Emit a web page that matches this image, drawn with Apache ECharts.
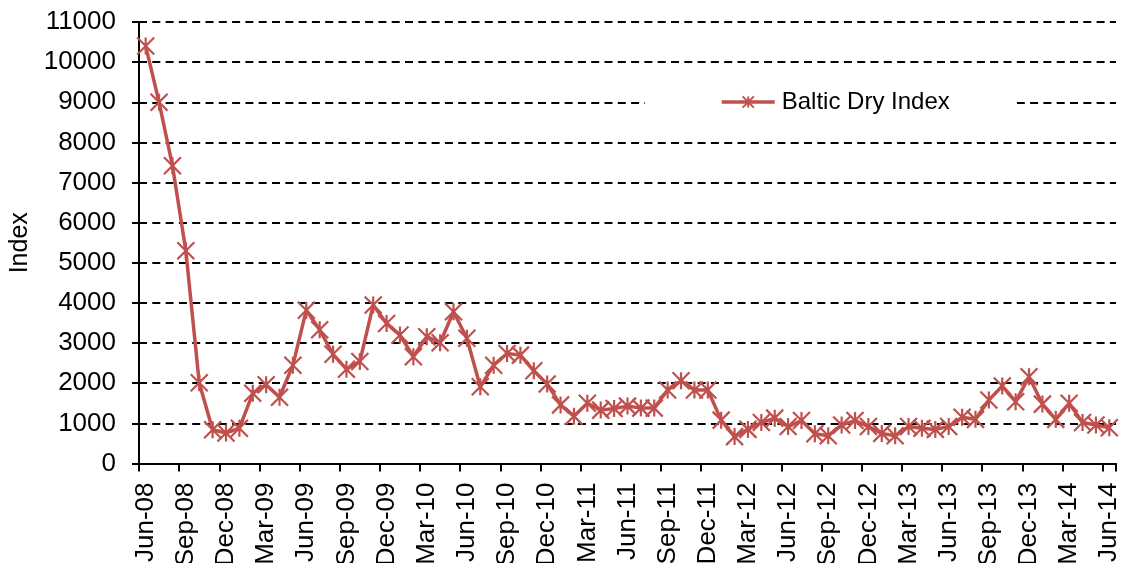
<!DOCTYPE html>
<html>
<head>
<meta charset="utf-8">
<script src="https://cdn.jsdelivr.net/npm/echarts@6/dist/echarts.min.js"></script>
<style>
html,body{margin:0;padding:0;background:#fff;}
#chart{width:1123px;height:563px;}
</style>
</head>
<body>
<div id="chart"></div>
<script>
const months = [
  'Jun-08','Jul-08','Aug-08','Sep-08','Oct-08','Nov-08','Dec-08',
  'Jan-09','Feb-09','Mar-09','Apr-09','May-09','Jun-09','Jul-09','Aug-09','Sep-09','Oct-09','Nov-09','Dec-09',
  'Jan-10','Feb-10','Mar-10','Apr-10','May-10','Jun-10','Jul-10','Aug-10','Sep-10','Oct-10','Nov-10','Dec-10',
  'Jan-11','Feb-11','Mar-11','Apr-11','May-11','Jun-11','Jul-11','Aug-11','Sep-11','Oct-11','Nov-11','Dec-11',
  'Jan-12','Feb-12','Mar-12','Apr-12','May-12','Jun-12','Jul-12','Aug-12','Sep-12','Oct-12','Nov-12','Dec-12',
  'Jan-13','Feb-13','Mar-13','Apr-13','May-13','Jun-13','Jul-13','Aug-13','Sep-13','Oct-13','Nov-13','Dec-13',
  'Jan-14','Feb-14','Mar-14','Apr-14','May-14','Jun-14'
];
const balticDryIndex = [
  10400, 9000, 7420, 5300, 2010, 840, 760,
  880, 1750, 1960, 1650, 2450, 3820, 3330, 2720, 2350, 2540, 3950, 3490,
  3200, 2660, 3160, 3010, 3780, 3120, 1910, 2450, 2740, 2700, 2310, 1980,
  1460, 1180, 1500, 1330, 1370, 1430, 1380, 1380, 1830, 2060, 1830, 1830,
  1080, 670, 850, 1020, 1130, 920, 1070, 740, 690, 960, 1070, 920,
  750, 690, 920, 880, 850, 920, 1150, 1100, 1580, 1930, 1540, 2160,
  1480, 1100, 1500, 1020, 960, 890
];
const seriesName = 'Baltic Dry Index';
const yAxisTitle = 'Index';

const FONT = "'Liberation Sans', Arial, sans-serif";
const RED = '#C0504D';
const chart = echarts.init(document.getElementById('chart'), null, {renderer: 'canvas'});
chart.setOption({
  animation: false,
  backgroundColor: '#fff',
  grid: {left: 139, right: 7, top: 22, bottom: 99.5, containLabel: false, outerBoundsMode: 'none'},
  legend: {
    data: [seriesName],
    left: 645, top: 85,
    backgroundColor: '#fff',
    padding: [5, 67, 5, 75],
    itemWidth: 53, itemHeight: 14, itemGap: 0,
    lineStyle: {width: 3.5},
    textStyle: {fontFamily: FONT, fontSize: 24, color: '#000', padding: [0, 0, 0, 2]}
  },
  xAxis: {
    type: 'category',
    data: months,
    boundaryGap: true,
    axisLine: {lineStyle: {color: '#000', width: 2}},
    axisTick: {show: true, interval: 2, length: 8, lineStyle: {color: '#000', width: 2}},
    axisLabel: {interval: 2, rotate: 90, margin: 19, fontFamily: FONT, fontSize: 26, color: '#000'},
    splitLine: {show: false}
  },
  yAxis: {
    type: 'value',
    min: 0, max: 11000, interval: 1000,
    name: yAxisTitle,
    nameLocation: 'middle',
    nameGap: 106,
    nameTextStyle: {fontFamily: FONT, fontSize: 25, color: '#000'},
    axisLine: {show: true, lineStyle: {color: '#000', width: 2}},
    axisTick: {show: true, length: 7, lineStyle: {color: '#000', width: 2}},
    axisLabel: {margin: 23, fontFamily: FONT, fontSize: 26, color: '#000', formatter: function (v) { return String(v); }},
    splitLine: {show: true, lineStyle: {color: '#000', width: 2, type: [8, 5.3]}}
  },
  series: [{
    name: seriesName,
    type: 'line',
    data: balticDryIndex,
    lineStyle: {color: RED, width: 3.5},
    itemStyle: {color: RED, borderColor: RED, borderWidth: 2.2},
    symbol: 'path://M0,0L16,16M16,0L0,16M8,0L8,16',
    symbolSize: 17,
    symbolKeepAspect: true,
    showAllSymbol: true
  }]
});
</script>
</body>
</html>
